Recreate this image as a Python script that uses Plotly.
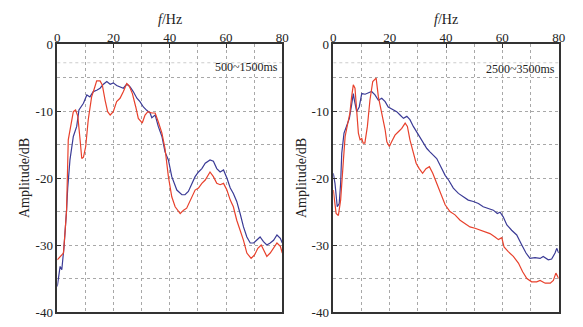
import plotly.graph_objects as go

# ---------------- data ----------------
L_blue_f = [0, 1.0, 1.6, 2.4, 3.3, 3.7, 4.5, 5.7, 6.9, 7.7, 9.3, 10.5, 11.6, 12.8, 14.0, 15.2, 16.4, 17.6,
            18.8, 19.9, 21.1, 22.3, 23.5, 24.7, 25.9, 27.0, 28.3, 29.4, 30.6, 31.8, 33.0, 33.6, 34.8, 35.9,
            37.2, 38.3, 39.5, 40.7, 42.5, 44.3, 45.4, 46.6, 47.8, 49.0, 50.2, 51.4, 52.6, 54.3, 55.5, 56.7,
            57.9, 59.1, 60.3, 61.5, 62.6, 63.8, 65.0, 66.2, 67.4, 68.6, 69.8, 71.0, 72.1, 73.3, 74.5, 75.7,
            76.9, 78.1, 79.3, 80.0]
L_blue_db = [-36.2, -33.2, -33.7, -30.2, -24.8, -21.5, -17.3, -13.8, -12.3, -9.85, -8.85, -7.6, -7.9, -7.1,
             -6.9, -6.6, -6.0, -5.6, -6.0, -5.8, -6.2, -6.4, -6.6, -6.0, -6.4, -7.1, -8.1, -8.6, -9.4, -9.9,
             -10.3, -11.0, -10.6, -12.3, -13.8, -16.1, -17.3, -19.8, -21.8, -22.5, -22.5, -22.0, -21.0,
             -19.8, -19.1, -18.6, -17.8, -17.3, -17.5, -18.6, -19.1, -18.8, -20.0, -21.5, -22.3, -23.5,
             -25.3, -27.3, -28.8, -29.7, -29.7, -29.3, -28.8, -29.5, -30.0, -29.7, -29.3, -28.5, -29.0, -29.7]

L_red_f = [0, 1.0, 2.2, 2.8, 3.3, 3.9, 5.1, 5.7, 6.5, 7.3, 8.1, 8.7, 9.3, 10.1, 11.0, 12.2, 13.2, 14.0,
           15.2, 16.0, 17.0, 17.9, 18.8, 19.9, 21.1, 22.3, 23.5, 24.7, 25.5, 26.7, 27.9, 28.8, 29.8, 30.2,
           31.2, 32.2, 33.6, 34.8, 35.9, 37.2, 38.3, 39.5, 40.7, 41.9, 43.7, 44.9, 46.0, 47.2, 49.0, 50.2,
           51.4, 52.6, 54.3, 55.5, 56.7, 57.9, 59.1, 60.3, 61.5, 62.6, 63.8, 65.0, 66.2, 67.4, 68.9, 70.1,
           71.3, 72.5, 73.6, 74.5, 75.7, 76.9, 78.1, 79.3, 80.0]
L_red_db = [-32.2, -31.7, -31.2, -27.8, -24.8, -14.3, -11.3, -10.1, -9.85, -10.8, -14.3, -17.1, -16.9,
            -15.3, -11.3, -7.9, -6.6, -5.5, -5.5, -6.1, -8.4, -10.1, -10.6, -10.1, -8.6, -8.1, -7.1, -5.9,
            -6.2, -7.4, -9.4, -11.1, -11.6, -11.8, -10.6, -10.1, -10.3, -10.3, -11.6, -13.3, -15.6, -19.8,
            -22.8, -24.3, -25.3, -24.8, -24.5, -23.5, -21.8, -21.5, -20.8, -20.3, -19.1, -19.8, -20.8,
            -21.0, -20.8, -21.8, -23.3, -24.3, -26.3, -27.8, -29.3, -31.2, -32.0, -31.5, -30.5, -30.0,
            -31.0, -31.7, -31.2, -30.5, -29.7, -30.2, -31.2]

R_blue_f = [0, 0.6, 1.4, 2.1, 2.6, 3.0, 3.8, 4.8, 5.7, 6.5, 7.1, 7.5, 8.3, 9.2, 10.1, 11.3, 12.4, 13.6,
            14.8, 16.0, 17.2, 18.4, 19.5, 21.3, 22.5, 23.7, 24.9, 26.1, 27.2, 28.4, 29.6, 30.8, 32.0, 33.2,
            34.3, 35.5, 36.7, 37.9, 39.7, 40.9, 42.6, 44.4, 46.2, 47.9, 49.7, 51.5, 53.2, 55.0, 56.8, 58.2,
            59.2, 60.3, 61.6, 63.3, 65.1, 66.9, 68.4, 69.8, 71.6, 73.4, 74.5, 76.3, 77.5, 78.7, 79.3, 80.0]
R_blue_db = [-19.3, -20.8, -24.3, -23.8, -20.8, -16.3, -13.3, -12.1, -11.1, -9.1, -7.4, -8.4, -10.1, -9.4,
             -7.4, -7.5, -7.3, -7.1, -7.6, -8.4, -8.1, -8.6, -9.4, -9.85, -10.1, -10.6, -11.1, -10.8, -11.3,
             -12.3, -13.1, -14.1, -14.8, -15.6, -16.1, -16.6, -17.1, -18.1, -19.6, -20.3, -21.5, -22.3,
             -22.8, -23.3, -23.5, -23.8, -24.3, -24.5, -24.8, -25.3, -25.1, -25.8, -27.0, -27.8, -28.5,
             -30.0, -31.2, -32.0, -31.9, -32.0, -31.7, -32.2, -32.1, -31.2, -30.5, -31.2]

R_red_f = [0, 1.0, 1.8, 2.6, 3.6, 4.2, 5.0, 5.9, 6.5, 7.1, 7.7, 8.3, 8.9, 9.5, 10.1, 10.6, 11.2, 12.1,
           13.0, 14.0, 15.2, 16.0, 17.2, 18.4, 19.0, 19.9, 20.7, 21.9, 23.1, 24.3, 25.5, 26.3, 27.2, 28.4,
           29.4, 30.5, 31.7, 32.9, 34.1, 35.3, 36.5, 37.6, 39.7, 41.4, 43.2, 45.0, 46.8, 48.5, 50.3, 52.1,
           53.8, 55.6, 57.4, 58.6, 59.8, 60.6, 62.1, 63.9, 65.7, 67.2, 68.7, 70.4, 72.2, 73.4, 75.2, 77.0,
           78.1, 79.0, 80.0]
R_red_db = [-21.8, -25.3, -25.6, -23.3, -17.3, -13.8, -12.1, -10.3, -7.9, -6.1, -6.6, -10.3, -13.3, -14.3,
            -14.1, -14.8, -14.8, -12.3, -8.4, -5.6, -5.1, -7.9, -10.3, -12.8, -14.6, -15.3, -14.6, -13.6,
            -13.1, -12.6, -11.8, -12.3, -14.3, -16.3, -17.8, -18.6, -19.3, -18.6, -18.3, -19.3, -20.6,
            -21.8, -24.0, -25.0, -25.5, -26.3, -26.8, -27.3, -27.5, -27.8, -28.0, -28.3, -28.8, -29.2,
            -28.9, -30.3, -31.0, -31.7, -32.7, -34.0, -35.0, -35.5, -35.5, -35.3, -35.7, -35.7, -35.3,
            -34.2, -35.0]

x_ticks = [0, 20, 40, 60, 80]
x_tick_text = ["0", "20", "40", "60", "80"]
y_ticks = [0, -10, -20, -30, -40]
y_tick_text = ["0", "-10", "-20", "-30", "-40"]
panel_labels = ["500~1500ms", "2500~3500ms"]

# ---------------- styling ----------------
W, H = 583, 327
BLUE = "#3b3b96"
RED = "#e8412c"
FONT = "Liberation Serif"
GRID = "#a8a8a8"
FRAME = "#333333"
TXT = "#222222"


def fx(p):
    return p / W


def fy(p):
    return 1 - p / H


fig = go.Figure()
for xa, ya, (bf, bd, rf, rd) in [("x", "y", (L_blue_f, L_blue_db, L_red_f, L_red_db)),
                                 ("x2", "y2", (R_blue_f, R_blue_db, R_red_f, R_red_db))]:
    fig.add_trace(go.Scatter(x=bf, y=bd, mode="lines", xaxis=xa, yaxis=ya,
                             line=dict(color=BLUE, width=1.2), showlegend=False))
    fig.add_trace(go.Scatter(x=rf, y=rd, mode="lines", xaxis=xa, yaxis=ya,
                             line=dict(color=RED, width=1.2), showlegend=False))

xdoms = [[fx(57.3), fx(282.3)], [fx(333.3), fx(558.7)]]
ydom = [fy(312), fy(44)]

common_x = dict(range=[0, 80], side="top", tickvals=x_ticks, ticktext=x_tick_text,
                ticks="inside", ticklen=4, tickcolor=FRAME, ticklabelstandoff=-5,
                showline=True, mirror=True, linecolor=FRAME, linewidth=1.5,
                showgrid=True, gridcolor=GRID, griddash="dot", gridwidth=1,
                minor=dict(dtick=10, tick0=0, showgrid=True, gridcolor=GRID, griddash="dot", gridwidth=1),
                zeroline=False, tickfont=dict(family=FONT, size=13, color=TXT),
                automargin=False, fixedrange=True)
common_y = dict(range=[-40, 0], tickvals=y_ticks, ticktext=y_tick_text,
                ticks="inside", ticklen=4, tickcolor=FRAME,
                showline=True, mirror=True, linecolor=FRAME, linewidth=1.5,
                showgrid=True, gridcolor=GRID, griddash="dot", gridwidth=1,
                minor=dict(dtick=5, tick0=0, showgrid=True, gridcolor=GRID, griddash="dot", gridwidth=1),
                zeroline=False, tickfont=dict(family=FONT, size=13, color=TXT),
                automargin=False, fixedrange=True, domain=ydom)

fig.update_layout(
    width=W, height=H,
    margin=dict(l=0, r=0, t=0, b=0),
    paper_bgcolor="white", plot_bgcolor="white",
    xaxis=dict(domain=xdoms[0], anchor="y", **common_x),
    yaxis=dict(anchor="x", **common_y),
    xaxis2=dict(domain=xdoms[1], anchor="y2", **common_x),
    yaxis2=dict(anchor="x2", **common_y),
)

# faint extra dotted line near top
for xa, ya in [("x", "y"), ("x2", "y2")]:
    fig.add_shape(type="line", xref=xa, yref=ya, x0=0, x1=80, y0=-2.8, y1=-2.8,
                  line=dict(color="#cccccc", width=1, dash="dot"))

annos = []
for i, dom in enumerate(xdoms):
    cx = (dom[0] + dom[1]) / 2
    annos.append(dict(x=cx, y=fy(19), xref="paper", yref="paper", text="<i>f</i>/Hz",
                      showarrow=False, font=dict(family=FONT, size=14, color=TXT),
                      xanchor="center", yanchor="middle"))
annos.append(dict(x=fx(24), y=(ydom[0] + ydom[1]) / 2, xref="paper", yref="paper",
                  text="Amplitude/dB", textangle=-90, showarrow=False,
                  font=dict(family=FONT, size=14, color=TXT), xanchor="center", yanchor="middle"))
annos.append(dict(x=fx(301), y=(ydom[0] + ydom[1]) / 2, xref="paper", yref="paper",
                  text="Amplitude/dB", textangle=-90, showarrow=False,
                  font=dict(family=FONT, size=14, color=TXT), xanchor="center", yanchor="middle"))
annos.append(dict(x=fx(280), y=fy(67), xref="paper", yref="paper", text=panel_labels[0],
                  showarrow=False, font=dict(family=FONT, size=12, color=TXT),
                  xanchor="right", yanchor="middle"))
annos.append(dict(x=fx(557), y=fy(69), xref="paper", yref="paper", text=panel_labels[1],
                  showarrow=False, font=dict(family=FONT, size=12, color=TXT),
                  xanchor="right", yanchor="middle"))
fig.update_layout(annotations=annos)

fig.write_html("out.html", config={"displayModeBar": False},
               post_script="document.body.style.margin='0';")
